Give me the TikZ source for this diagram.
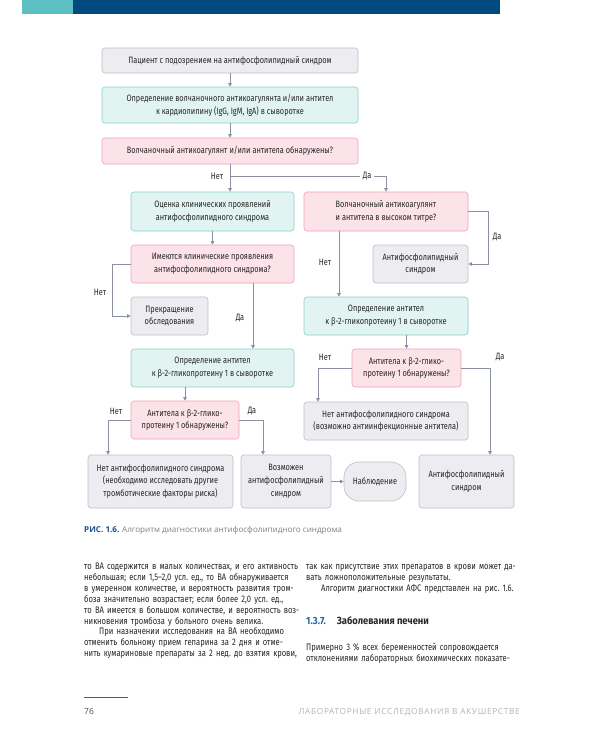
\documentclass[tikz,border=0pt]{standalone}
\usepackage{fontspec}
\setmainfont[FakeStretch=0.8]{Fira Sans}
\newfontfamily\headfont[FakeStretch=0.9]{Fira Sans}
\newfontfamily\capfont{Open Sans}
\newfontfamily\footfont[LetterSpace=8]{Open Sans}
\usetikzlibrary{arrows.meta}

\definecolor{grayfill}{HTML}{EDEDF1}
\definecolor{graydraw}{HTML}{BDBEC6}
\definecolor{tealfill}{HTML}{E2F4F1}
\definecolor{tealdraw}{HTML}{86D1C8}
\definecolor{pinkfill}{HTML}{FCE3EA}
\definecolor{pinkdraw}{HTML}{F2A0B4}
\definecolor{linegray}{HTML}{8C91A1}
\definecolor{barblue}{HTML}{004A80}
\definecolor{barteal}{HTML}{5CBFC1}
\definecolor{txt}{HTML}{262626}
\definecolor{capblue}{HTML}{1D4F8D}
\definecolor{capgray}{HTML}{808080}
\definecolor{headblue}{HTML}{2464A6}
\definecolor{footgray}{HTML}{B4B4B4}

\newlength{\colw}
\setlength{\colw}{214pt}
\newcommand{\jl}[1]{\hbox to \colw{#1}}
\newcommand{\lastl}[1]{\hbox{#1}}
\newcommand{\bodyfont}{\fontsize{9.5}{10.9}\selectfont\frenchspacing}

\begin{document}
\begin{tikzpicture}
[x=1pt, y=-1pt,
gbox/.style={draw=graydraw, fill=grayfill, rounded corners=3pt, line width=0.6pt, align=center, inner sep=0pt},
tbox/.style={gbox, draw=tealdraw, fill=tealfill},
pbox/.style={gbox, draw=pinkdraw, fill=pinkfill},
flow/.style={draw=linegray, line width=0.7pt, -{Triangle[length=3.5pt,width=3.5pt]}},
lbl/.style={inner sep=0pt}
]
\tikzset{every node/.style={font=\fontsize{9.2}{12.8}\selectfont, text=txt}}
%\tikzset{every node/.style={font=\small, text=black}}
\useasboundingbox (0,0) rectangle (600,750);
\fill[white] (0,0) rectangle (600,750);

% top bar
\fill[barblue] (22,0) rectangle (500,14);
\fill[barteal] (22,0) rectangle (73,14);

% boxes
\node[gbox, minimum width=256, minimum height=25] (pat) at (230,60.5) {Пациент с подозрением на антифосфолипидный синдром};
\node[tbox, minimum width=256, minimum height=36] (opr) at (230,105) {Определение волчаночного антикоагулянта и/или антител\\ к кардиолипину (IgG, IgM, IgA) в сыворотке};
\node[pbox, minimum width=256, minimum height=26] (vol) at (230,151) {Волчаночный антикоагулянт и/или антитела обнаружены?};
\node[tbox, minimum width=163, minimum height=39] (otz) at (212.5,211.5) {Оценка клинических проявлений\\ антифосфолипидного синдрома};
\node[pbox, minimum width=164, minimum height=39] (tit) at (386,211.5) {Волчаночный антикоагулянт\\ и антитела в высоком титре?};
\node[pbox, minimum width=163, minimum height=38] (ime) at (212.5,264) {Имеются клинические проявления\\ антифосфолипидного синдрома?};
\node[gbox, minimum width=95, minimum height=38] (afs1) at (420.5,264) {Антифосфолипидный\\ синдром};
\node[gbox, minimum width=77, minimum height=38] (prk) at (169.5,316) {Прекращение\\ обследования};
\node[tbox, minimum width=164, minimum height=38] (b2r) at (386,316) {Определение антител\\ к β-2-гликопротеину 1 в сыворотке};
\node[tbox, minimum width=163, minimum height=38] (b2l) at (212.5,368) {Определение антител\\ к β-2-гликопротеину 1 в сыворотке};
\node[pbox, minimum width=109, minimum height=38] (q2r) at (406.5,368) {Антитела к β-2-глико-\\ протеину 1 обнаружены?};
\node[gbox, minimum width=164, minimum height=38] (net1) at (386,421) {Нет антифосфолипидного синдрома\\ (возможно антиинфекционные антитела)};
\node[pbox, minimum width=108, minimum height=38] (q2l) at (185,420) {Антитела к β-2-глико-\\ протеину 1 обнаружены?};
\node[gbox, minimum width=145, minimum height=53] (net2) at (160.5,481.5) {Нет антифосфолипидного синдрома\\ (необходимо исследовать другие\\ тромботические факторы риска)};
\node[gbox, minimum width=90, minimum height=53] (vzm) at (286,481.5) {Возможен\\ антифосфолипидный\\ синдром};
\node[gbox, rounded corners=15pt, minimum width=62, minimum height=39] (nab) at (375,481.5) {Наблюдение};
\node[gbox, minimum width=95, minimum height=53] (afs2) at (466.5,481.5) {Антифосфолипидный\\ синдром};

% connectors
\coordinate (br) at (230,176);
\draw[flow] (pat) -- (opr);
\draw[flow] (opr) -- (vol);
\draw[flow] (vol.south) -- (vol.south |- otz.north);
\draw[flow] (br) -| (tit.north);
\draw[flow] (tit.east) -- ++(20,0) |- (afs1.east);
\draw[flow] ([xshift=-47pt]tit.south) -- ([xshift=-47pt]b2r.north);
\draw[flow] (otz) -- (ime);
\draw[flow] (ime.west) -- ++(-18,0) |- (prk.west);
\draw[flow] ([xshift=40.5pt]ime.south) -- ([xshift=40.5pt]ime.south |- b2l.north);
\draw[flow] (q2r.north |- b2r.south) -- (q2r.north);
\draw[flow] (q2r.west) -| ([xshift=-68pt]net1.north);
\draw[flow] (q2r.east) -| ([xshift=23.5pt]afs2.north);
\draw[flow] (q2l.north |- b2l.south) -- (q2l.north);
\draw[flow] (q2l.west) -| ([xshift=-52.5pt]net2.north);
\draw[flow] (q2l.east) -| ([xshift=-23pt]vzm.north);
\draw[flow] (vzm) -- (nab);

% yes / no
\node[lbl] (n1) at (217,176) {Нет};
\node[lbl, fill=white, inner xsep=3pt] (y1) at (367,176) {Да};
\node[lbl] (y2) at (497,237) {Да};
\node[lbl] (n2) at (325,262) {Нет};
\node[lbl] (n3) at (100,292) {Нет};
\node[lbl] (y3) at (240,318) {Да};
\node[lbl] (n4) at (325,357) {Нет};
\node[lbl] (y4) at (500,357) {Да};
\node[lbl] (n5) at (116,411) {Нет};
\node[lbl] (y5) at (252,411) {Да};

% caption
\node[anchor=base west, inner sep=0pt] (cap) at (84,532) {\capfont\fontsize{8.1}{9}\selectfont\textcolor{capblue}{\bfseries РИС. 1.6.} \textcolor{capgray}{Алгоритм диагностики антифосфолипидного синдрома}};

% text columns
\node[anchor=base west, inner sep=0pt, text width=\colw, font=\bodyfont] (colL) at (84,569.5) {%
\jl{то ВА содержится в малых количествах, и его активность}
\jl{небольшая; если 1,5–2,0 усл. ед., то ВА обнаруживается}
\jl{в умеренном количестве, и вероятность развития тром-}
\jl{боза значительно возрастает; если более 2,0 усл. ед.,}
\jl{то ВА имеется в большом количестве, и вероятность воз-}
\lastl{никновения тромбоза у больного очень велика.}
\jl{\hskip 15pt При назначении исследования на ВА необходимо}
\jl{отменить больному прием гепарина за 2 дня и отме-}
\jl{нить кумариновые препараты за 2 нед. до взятия крови,}};
\node[anchor=base west, inner sep=0pt, text width=\colw, font=\bodyfont] (colR) at (306,569.5) {%
\jl{так как присутствие этих препаратов в крови может да-}
\lastl{вать ложноположительные результаты.}
\lastl{\hskip 15pt Алгоритм диагностики АФС представлен на рис. 1.6.}};
\node[anchor=base west, inner sep=0pt, font=\headfont\fontsize{10.4}{11}\selectfont\bfseries] (head) at (306,624.5) {\textcolor{headblue}{1.3.7.}\hskip 11pt Заболевания печени};
\node[anchor=base west, inner sep=0pt, text width=\colw, font=\bodyfont] (colR2) at (306,650.5) {%
\jl{Примерно 3 \% всех беременностей сопровождается}
\jl{отклонениями лабораторных биохимических показате-}};

% footer
\draw[headblue, line width=1pt] (84,697) -- (128,697);
\node[anchor=base west, inner sep=0pt, font=\capfont\fontsize{8.5}{10}\selectfont, text=txt!80] (pg) at (84,714) {76};
\node[anchor=base east, inner sep=0pt, font=\footfont\fontsize{8.3}{9}\selectfont, text=footgray] (run) at (520,714) {ЛАБОРАТОРНЫЕ ИССЛЕДОВАНИЯ В АКУШЕРСТВЕ};
\end{tikzpicture}
\end{document}
